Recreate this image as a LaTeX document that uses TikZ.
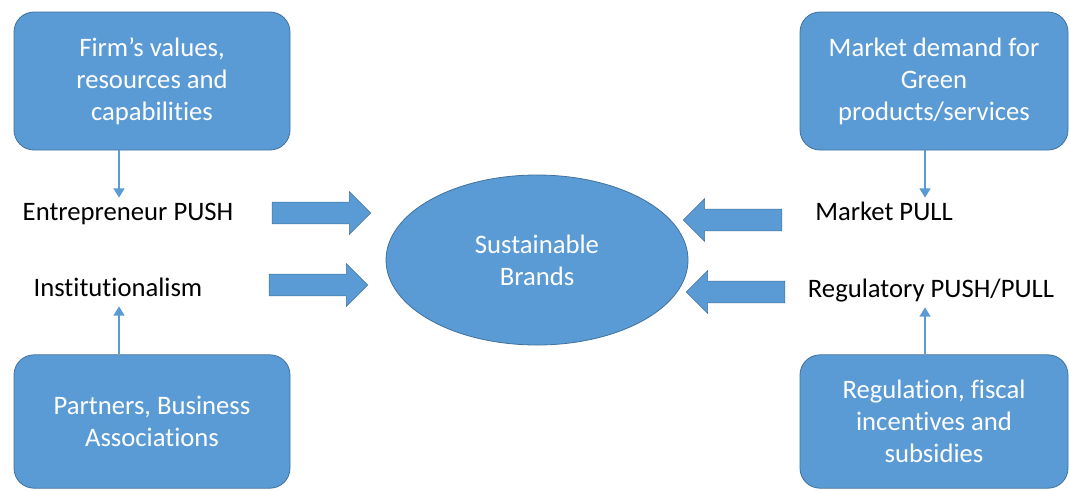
\documentclass[tikz,border=0pt]{standalone}
\usepackage{fontspec}
\setmainfont{Carlito}[RawFeature=-liga]
\usetikzlibrary{shapes.geometric,shapes.arrows,arrows.meta}
\definecolor{boxblue}{HTML}{5B9BD5}
\definecolor{edgeblue}{HTML}{41719C}
\tikzset{
  bluebox/.style={draw=edgeblue,line width=.6pt,fill=boxblue,rounded corners=15pt,
    text=white,align=center,inner sep=0pt},
  label/.style={text=black,inner sep=3pt,text height=14pt,text depth=4pt},
  bigarrow/.style={single arrow,draw=edgeblue,line width=.4pt,fill=boxblue,
    inner xsep=0pt,inner ysep=7.9pt,minimum height=74pt,minimum width=31.5pt,
    single arrow head extend=7.9pt},
  linkarrow/.style={draw=boxblue,line width=2pt,-{Triangle[length=7pt,width=8pt]}}
}
\begin{document}
\begin{tikzpicture}[x=.75pt,y=-.75pt,font=\fontsize{20}{24}\selectfont]
  \useasboundingbox (0,0) rectangle (1069,490);
  \node [bluebox,minimum width=207pt,minimum height=103.5pt] (firm) at (152,81)
    {Firm’s values,\\resources and\\capabilities};
  \node [bluebox,minimum width=201pt,minimum height=103.5pt] (demand) at (934,81)
    {Market demand for\\Green\\products/services};
  \node [bluebox,minimum width=207pt,minimum height=100pt] (partners) at (152,421.5)
    {Partners, Business\\Associations};
  \node [bluebox,minimum width=201pt,minimum height=100pt] (regul) at (934,421.5)
    {Regulation, fiscal\\incentives and\\subsidies};
  \node [ellipse,draw=edgeblue,line width=.6pt,fill=boxblue,text=white,align=center,
    minimum width=226.5pt,minimum height=127.5pt,inner sep=0pt] (brands) at (537,260)
    {Sustainable\\Brands};
  \node [label] (entre) at (128,214) {Entrepreneur PUSH};
  \node [label] (inst) at (118,290) {Institutionalism};
  \node [label] (mkt) at (884,214) {Market PULL};
  \node [label] (reg) at (931,291) {Regulatory PUSH/PULL};
  \node [bigarrow] (pushA) at (316,213) {};
  \node [bigarrow] (pushB) at (313,285) {};
  \node [bigarrow,shape border rotate=180] (pullA) at (738,220) {};
  \node [bigarrow,shape border rotate=180] (pullB) at (741,292) {};
  \draw [linkarrow] (firm.south -| 119,0) -- (entre.north -| 119,0);
  \draw [linkarrow] (partners.north -| 119,0) -- (inst.south -| 119,0);
  \draw [linkarrow] (demand.south -| 925,0) -- (mkt.north -| 925,0);
  \draw [linkarrow] (regul.north -| 925,0) -- (reg.south -| 925,0);
\end{tikzpicture}
\end{document}
